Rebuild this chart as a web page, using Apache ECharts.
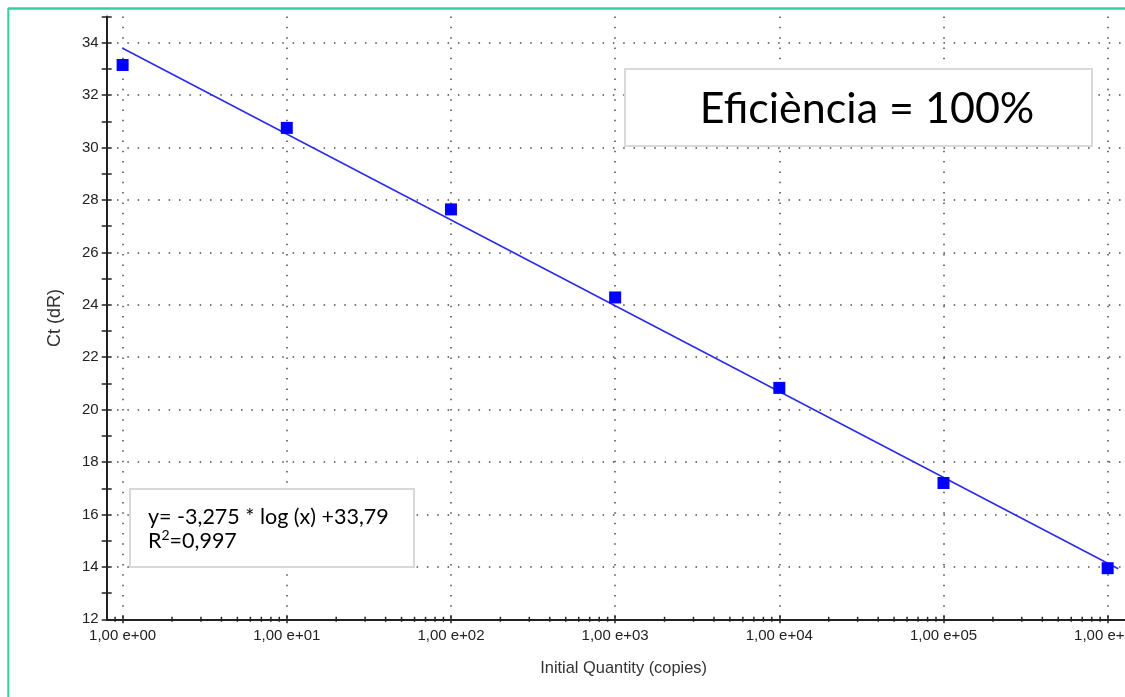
<!DOCTYPE html>
<html>
<head>
<meta charset="utf-8">
<script src="https://cdn.jsdelivr.net/npm/echarts@6/dist/echarts.min.js"></script>
<style>
html,body{margin:0;padding:0;background:#fff;overflow:hidden;width:1125px;height:697px;}
#chart{width:1160px;height:697px;}
</style>
</head>
<body>
<div id="chart"></div>
<script>
// ---- data ----
var quantities = [1, 10, 100, 1000, 10000, 100000, 1000000];
var ctValues = [33.15, 30.75, 27.64, 24.28, 20.83, 17.2, 13.95];
var fitX = [1, 1160000];
var fitY = [33.79, 13.93];
var minorMultipliers = [2, 3, 4, 5, 6, 7, 8, 9];
var minorDecades = [1, 10, 100, 1000, 10000, 100000];
var extraMinor = [0.9];
var titleText = 'Eficiència = 100%';
var eqLine1 = 'y= -3,275 * log (x) +33,79';
var eqLine2Parts = ['R', '2', '=0,997'];
var xName = 'Initial Quantity (copies)';
var yName = 'Ct (dR)';

var minorTicks = extraMinor.map(function (v) { return [v]; });
minorDecades.forEach(function (d) {
  minorMultipliers.forEach(function (m) { minorTicks.push([m * d]); });
});
var points = quantities.map(function (q, i) { return [q, ctValues[i]]; });
var fitLine = fitX.map(function (x, i) { return [x, fitY[i]]; });

var axisColor = '#222';
var gridDots = { color: '#4a4a4a', width: 1.5, type: [1.5, 8.83] };
var labelFont = { fontFamily: 'Liberation Sans, Arial, sans-serif', fontSize: 15, color: '#222' };

function fmtX(v) {
  var e = Math.round(Math.log10(v));
  if (Math.abs(Math.log10(v) - e) > 1e-6) return '';
  return '1,00 e+' + (e < 10 ? '0' : '') + e;
}

var chart = echarts.init(document.getElementById('chart'), null, { renderer: 'canvas' });
var xBase = { type: 'log', logBase: 10, min: 0.8, max: 1584893, position: 'bottom' };
var yBase = { type: 'value', min: 12, max: 35, position: 'left' };

chart.setOption({
  animation: false,
  backgroundColor: '#fff',
  grid: { left: 106.7, right: 19.5, top: 16.5, bottom: 77.7, containLabel: false },
  xAxis: [
    Object.assign({}, xBase, {
      name: xName, nameLocation: 'middle', nameGap: 41,
      nameTextStyle: { fontFamily: labelFont.fontFamily, fontSize: 16.4, color: '#333' },
      axisLine: { show: true, lineStyle: { color: axisColor, width: 2 } },
      axisTick: { show: true, inside: false, length: 4, lineStyle: { color: axisColor, width: 1.5 } },
      axisLabel: Object.assign({ formatter: fmtX, margin: 9, showMinLabel: false, showMaxLabel: false }, labelFont),
      splitLine: { show: true, showMinLine: false, showMaxLine: false, lineStyle: gridDots },
      minorTick: { show: false }
    }),
    Object.assign({}, xBase, {
      axisLine: { show: false },
      axisTick: { show: true, inside: true, length: 4, lineStyle: { color: axisColor, width: 1.5 } },
      axisLabel: { show: false },
      splitLine: { show: false }
    })
  ],
  yAxis: [
    Object.assign({}, yBase, {
      interval: 1,
      name: yName, nameLocation: 'middle', nameGap: 43, nameRotate: 90,
      nameTextStyle: { fontFamily: labelFont.fontFamily, fontSize: 18, color: '#333' },
      axisLine: { show: true, lineStyle: { color: axisColor, width: 2 } },
      axisTick: { show: true, inside: false, length: 5, lineStyle: { color: axisColor, width: 1.5 } },
      axisLabel: Object.assign({
        margin: 8,
        formatter: function (v) { return (v % 2 === 0) ? String(v) : ''; }
      }, labelFont),
      splitLine: { show: false }
    }),
    Object.assign({}, yBase, {
      interval: 1,
      axisLine: { show: false },
      axisTick: { show: true, inside: true, length: 5, lineStyle: { color: axisColor, width: 1.5 } },
      axisLabel: { show: false },
      splitLine: { show: false }
    }),
    Object.assign({}, yBase, {
      interval: 2,
      axisLine: { show: false },
      axisTick: { show: false },
      axisLabel: { show: false },
      splitLine: { show: true, showMinLine: false, showMaxLine: false, lineStyle: gridDots }
    })
  ],
  series: [
    {
      type: 'custom',
      xAxisIndex: 0, yAxisIndex: 0,
      data: minorTicks,
      silent: true,
      z: 5,
      renderItem: function (params, api) {
        var p = api.coord([api.value(0), 12]);
        return {
          type: 'line',
          shape: { x1: p[0], y1: p[1] - 2.5, x2: p[0], y2: p[1] + 2.5 },
          style: { stroke: axisColor, lineWidth: 1.5 }
        };
      }
    },
    {
      type: 'line',
      xAxisIndex: 0, yAxisIndex: 0,
      data: fitLine,
      symbol: 'none',
      lineStyle: { color: '#2a2aee', width: 1.5 },
      z: 3
    },
    {
      type: 'scatter',
      xAxisIndex: 0, yAxisIndex: 0,
      data: points,
      symbol: 'rect',
      symbolSize: 12,
      itemStyle: { color: '#0000ff', opacity: 1 },
      z: 4
    }
  ],
  graphic: [
    { type: 'line', shape: { x1: 8, y1: 8.5, x2: 1160, y2: 8.5 }, style: { stroke: '#2fd3a2', lineWidth: 2.5 }, z: 100 },
    { type: 'line', shape: { x1: 8.3, y1: 8, x2: 8.3, y2: 697 }, style: { stroke: '#2fd3a2', lineWidth: 2 }, z: 100 },
    { type: 'rect', shape: { x: 625, y: 69, width: 467, height: 77 }, style: { fill: '#fff', stroke: '#d9d9d9', lineWidth: 2 }, z: 50 },
    { type: 'text', x: 867, y: 109, style: { text: titleText, fontFamily: 'Lato, sans-serif', fontSize: 43, fill: '#000', align: 'center', verticalAlign: 'middle' }, z: 51 },
    { type: 'rect', shape: { x: 130, y: 489, width: 284, height: 78 }, style: { fill: '#fff', stroke: '#d9d9d9', lineWidth: 2 }, z: 50 },
    { type: 'text', x: 148, y: 517, style: { text: eqLine1, fontFamily: 'Lato, sans-serif', fontSize: 21.5, fill: '#000', align: 'left', verticalAlign: 'middle' }, z: 51 },
    { type: 'text', x: 148, y: 541, style: {
        text: eqLine2Parts[0] + '{sup|' + eqLine2Parts[1] + '}' + eqLine2Parts[2],
        fontFamily: 'Lato, sans-serif', fontSize: 21.5, fill: '#000', align: 'left', verticalAlign: 'middle',
        rich: { sup: { fontFamily: 'Lato, sans-serif', fontSize: 14, fill: '#000', padding: [0, 0, 11, 0] } }
      }, z: 51 }
  ]
});
</script>
</body>
</html>
